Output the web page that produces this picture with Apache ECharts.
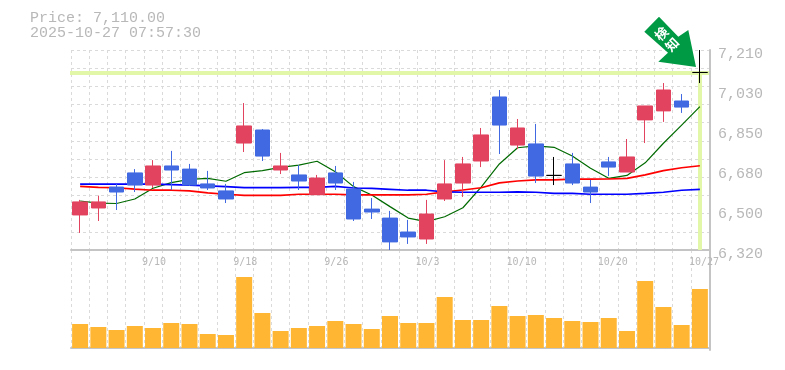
<!DOCTYPE html>
<html><head><meta charset="utf-8">
<style>html,body{margin:0;padding:0;background:#fff}#c{width:785px;height:370px}</style>
<script src="https://cdn.jsdelivr.net/npm/echarts@6/dist/echarts.min.js"></script>
</head><body><div id="c"></div>
<script>
const categories=['9/4','9/5','9/8','9/9','9/10','9/11','9/12','9/15','9/16','9/18','9/19','9/22','9/24','9/25','9/26','9/29','9/30','10/1','10/2','10/3','10/6','10/7','10/8','10/9','10/10','10/14','10/15','10/16','10/17','10/20','10/21','10/22','10/23','10/24','10/27'];
const axisDates=['9/10','9/18','9/26','10/3','10/10','10/20','10/27'];
const priceTicks=['6,320','6,500','6,680','6,850','7,030','7,210'];
const opens=[6476,6507,6600,6663,6609,6694,6680,6614,6583,6796,6854,6676,6654,6566,6663,6591,6502,6462,6400,6369,6547,6618,6716,7001,6787,6792,6652,6703,6600,6712,6667,6899,6939,6983,7110];
const closes=[6534,6534,6578,6609,6694,6676,6609,6596,6547,6872,6738,6694,6627,6640,6618,6458,6489,6356,6378,6480,6614,6703,6832,6876,6863,6649,6652,6618,6578,6689,6734,6961,7032,6956,7110];
const lows=[6396,6449,6498,6578,6596,6587,6605,6587,6529,6756,6716,6658,6587,6565,6587,6449,6458,6320,6347,6347,6538,6556,6689,6747,6769,6618,6609,6609,6529,6649,6667,6796,6890,6930,7063];
const highs=[6543,6562,6614,6680,6720,6761,6703,6672,6614,6974,6858,6752,6698,6654,6694,6623,6551,6494,6454,6543,6720,6734,6863,7032,6903,6881,6734,6752,6632,6734,6814,6961,7063,7014,7210];
const maGreen=[6538,6529,6527,6547,6595,6620,6634,6639,6626,6664,6673,6688,6698,6715,6668,6602,6565,6513,6462,6446,6468,6508,6600,6703,6775,6783,6777,6738,6684,6639,6652,6708,6795,6876,6958];
const maRed=[6603,6599,6597,6591,6586,6586,6583,6574,6568,6563,6563,6563,6568,6568,6568,6565,6565,6565,6565,6568,6579,6587,6597,6619,6627,6632,6632,6635,6635,6636,6639,6654,6673,6686,6695];
const maBlue=[6613,6613,6613,6613,6613,6611,6609,6605,6602,6598,6598,6598,6599,6599,6603,6596,6594,6590,6586,6586,6579,6577,6577,6577,6579,6577,6572,6572,6568,6568,6568,6572,6577,6586,6590];
const volumes=[24,21,18,22,20,25,24,14,13,71,35,17,20,22,27,24,19,32,25,25,51,28,28,42,32,33,30,27,26,30,17,67,41,23,59];
const lastPrice=7110;
const headerLines=['Price: 7,110.00','2025-10-27 07:57:30'];
const badge='検知';

const mono='"Liberation Mono",monospace', grey='#b8b8b8', axisGrey='#c4c4c4', dash={color:'#dadada',type:[3,3],width:1};
const chart=echarts.init(document.getElementById('c'),null,{renderer:'canvas'});
const candles=opens.map((o,i)=>[o,closes[i],lows[i],highs[i]]);
const dateLabel=(v)=>axisDates.includes(v)?v:'';
const solidRight={show:true,lineStyle:{color:axisGrey,width:2}};
chart.setOption({
  animation:false,backgroundColor:'#fff',
  title:{text:headerLines.join('\n'),left:30,top:11,padding:0,textStyle:{fontFamily:mono,fontSize:15,fontWeight:'normal',color:grey,lineHeight:15}},
  grid:[{left:71,width:638,top:50,height:200},{left:71,width:638,top:250,height:100},{left:71,width:638,top:54,height:200}],
  xAxis:[
    {type:'category',gridIndex:0,data:categories,boundaryGap:true,
      axisLine:{lineStyle:{color:axisGrey,width:2}},axisTick:{show:false},
      splitLine:{show:true,interval:0,lineStyle:dash},
      axisLabel:{interval:0,formatter:dateLabel,fontFamily:'"DejaVu Sans Mono",monospace',fontSize:10,color:grey,margin:7,align:'left',padding:[0,0,0,-11]}},
    {type:'category',gridIndex:1,data:categories,boundaryGap:true,
      axisLine:{lineStyle:{color:axisGrey,width:2}},axisTick:{show:false},axisLabel:{show:false},
      splitLine:{show:true,interval:0,lineStyle:dash}},
    {type:'category',gridIndex:2,data:categories,show:false}
  ],
  yAxis:[
    {type:'value',gridIndex:0,min:6320,max:7210,show:false,splitLine:{show:false}},
    {type:'value',gridIndex:0,min:0,max:11,interval:1,position:'right',offset:1,
      axisLine:solidRight,axisTick:{show:false},axisLabel:{show:false},splitLine:{show:true,lineStyle:dash}},
    {type:'value',gridIndex:2,min:0,max:5,interval:1,position:'right',offset:0,
      axisLine:{show:false},axisTick:{show:false},splitLine:{show:false},
      axisLabel:{formatter:(v)=>priceTicks[v],fontFamily:mono,fontSize:15,color:grey,margin:9}},
    {type:'value',gridIndex:1,min:-2,max:98,position:'right',offset:1,axisLine:solidRight,axisTick:{show:false},axisLabel:{show:false},splitLine:{show:false}}
  ],
  series:[
    {type:'line',name:'MA5',xAxisIndex:0,yAxisIndex:0,data:maGreen,showSymbol:false,lineStyle:{color:'#006a00',width:1.2},z:3,
      markLine:{silent:true,symbol:'none',z:1,label:{show:false},lineStyle:{color:'#e3f7a9',width:4,type:'solid'},animation:false,
        data:[[{xAxis:0,yAxis:lastPrice,x:70},{yAxis:lastPrice,x:709}],[{coord:[34,lastPrice]},{coord:[34,6320]}]]}},
    {type:'line',name:'MA25',xAxisIndex:0,yAxisIndex:0,data:maRed,showSymbol:false,lineStyle:{color:'#ff0000',width:1.7},z:3},
    {type:'line',name:'MA75',xAxisIndex:0,yAxisIndex:0,data:maBlue,showSymbol:false,lineStyle:{color:'#0000ff',width:1.7},z:3},
    {type:'candlestick',name:'Price',xAxisIndex:0,yAxisIndex:0,data:candles,barWidth:15,z:4,clip:false,
      itemStyle:{color:'#e2435f',color0:'#4169e1',borderColor:'#e2435f',borderColor0:'#4169e1',borderColorDoji:'#000',borderWidth:1}},
    {type:'bar',name:'Volume',xAxisIndex:1,yAxisIndex:3,data:volumes,barWidth:16,itemStyle:{color:'#ffb733'}}
  ],
  graphic:[{type:'group',x:696,y:67,z:100,children:[
    {type:'polygon',z:100,shape:{points:[[0,0],[-37.7,-5.3],[-28,-14.3],[-51.7,-35.3],[-37,-50.3],[-17.7,-30.3],[-7.7,-37]]},style:{fill:'#009944'}},
    {type:'text',z:101,x:-29.3,y:-28,rotation:Math.PI/4,style:{text:badge.split('').join('\n'),fill:'#fff',fontFamily:'"Noto Sans CJK JP"',fontWeight:'bold',fontSize:13,lineHeight:15,align:'center',verticalAlign:'middle'}}
  ]}]
});
</script></body></html>
